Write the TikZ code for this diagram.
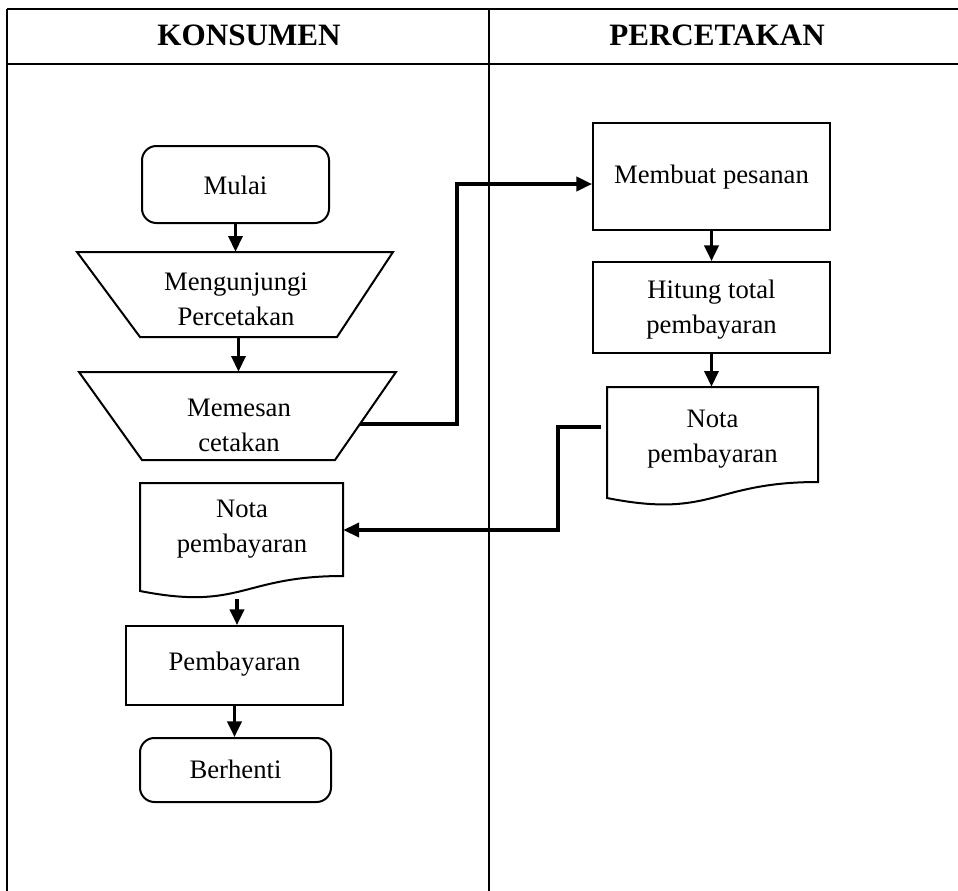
\documentclass[tikz,border=0pt]{standalone}
\usepackage{fontspec}
\setmainfont{Liberation Serif}
\usetikzlibrary{arrows.meta,calc,fit}

\begin{document}
\begin{tikzpicture}[
  x=0.45pt, y=-0.45pt,
  frame/.style={line width=0.9pt},
  box/.style={draw, line width=0.9pt, inner sep=0pt},
  roundbox/.style={box, rounded corners=6.5pt},
  ghost/.style={inner sep=0pt},
  txt/.style={align=center, inner sep=0pt, font=\fontsize{12}{15.8}\selectfont},
  head/.style={anchor=base, inner sep=0pt, font=\fontsize{14}{16}\selectfont\bfseries},
  flow/.style={line width=1.4pt, -{Triangle[length=7pt,width=6.4pt]}}
]
\useasboundingbox (0,0) rectangle (958,891);

% swimlane frame
\draw[frame] (7,9) -- (962,9);
\draw[frame] (7,64) -- (962,64);
\draw[frame] (7,9) -- (7,895);
\draw[frame] (489,9) -- (489,895);
\node[head] (hkons) at (249,45) {KONSUMEN};
\node[head] (hperc) at (717,45) {PERCETAKAN};

% ---- KONSUMEN lane ----
\node[roundbox, fit={(142,146) (329,223)}] (mulai) {};
\node[txt] (mulaitxt) at (235.5,185) {Mulai};

% manual input: visiting the print shop
\draw[line width=0.9pt] (77,252) -- (393,252) -- (337,337) -- (140,337) -- cycle;
\node[ghost, fit={(140,252) (337,337)}] (kunj) {};
\node[txt] (kunjtxt) at (236,299) {Mengunjungi\\Percetakan};

% manual input: placing the order
\draw[line width=0.9pt] (79,372) -- (396,372) -- (335,460) -- (142,460) -- cycle;
\node[ghost, fit={(142,372) (335,460)}] (pesan) {};
\node[txt] (pesantxt) at (239,425) {Memesan\\cetakan};
\coordinate (pesanout) at (360,424);

% document: receipt received by the customer
\draw[line width=0.9pt] (140,483) -- (343,483) -- (343,576)
  .. controls (241.5,576) and (241.5,611) .. (140,591) -- cycle;
\node[ghost, fit={(140,483) (343,591)}] (notaL) {};
\node[txt] (notaLtxt) at (242,529) {Nota\\pembayaran};
\coordinate (notaLin) at ($(notaL.east)+(0,-7)$);
\coordinate (notaLout) at (237,599);

\node[box, fit={(126,626) (343,705)}] (bayar) {};
\node[txt] (bayartxt) at (234.5,664) {Pembayaran};
\node[roundbox, fit={(140,738) (331,802)}] (henti) {};
\node[txt] (hentitxt) at (235.5,769) {Berhenti};

% ---- PERCETAKAN lane ----
\node[box, fit={(593,123) (830,230)}] (buat) {};
\node[txt] (buattxt) at (711.5,177) {Membuat pesanan};
\coordinate (buatin) at ($(buat.west)+(0,7.5)$);
\node[box, fit={(593,262) (830,353)}] (hitung) {};
\node[txt] (hitungtxt) at (711.5,310) {Hitung total\\pembayaran};

% document: receipt issued by the print shop
\draw[line width=0.9pt] (607,387) -- (818,387) -- (818,482)
  .. controls (712.5,482) and (712.5,519) .. (607,498) -- cycle;
\node[ghost, fit={(607,387) (818,498)}] (notaR) {};
\node[txt] (notaRtxt) at (712.5,439) {Nota\\pembayaran};
\coordinate (notaRout) at (601,427);

% ---- connectors ----
\draw[flow] (mulai.south) -- (mulai.south |- kunj.north);
\draw[flow] (kunj.south) -- (kunj.south |- pesan.north);
\coordinate (bendA) at (457,424);
\draw[flow] (pesanout) -- (bendA) |- (buatin);
\draw[flow] (buat.south) -- (buat.south |- hitung.north);
\draw[flow] (hitung.south) -- (hitung.south |- notaR.north);
\coordinate (bendB) at (558,427);
\draw[flow] (notaRout) -- (bendB) |- (notaLin);
\draw[flow] (notaLout) -- (notaLout |- bayar.north);
\draw[flow] (bayar.south) -- (bayar.south |- henti.north);
\end{tikzpicture}
\end{document}
